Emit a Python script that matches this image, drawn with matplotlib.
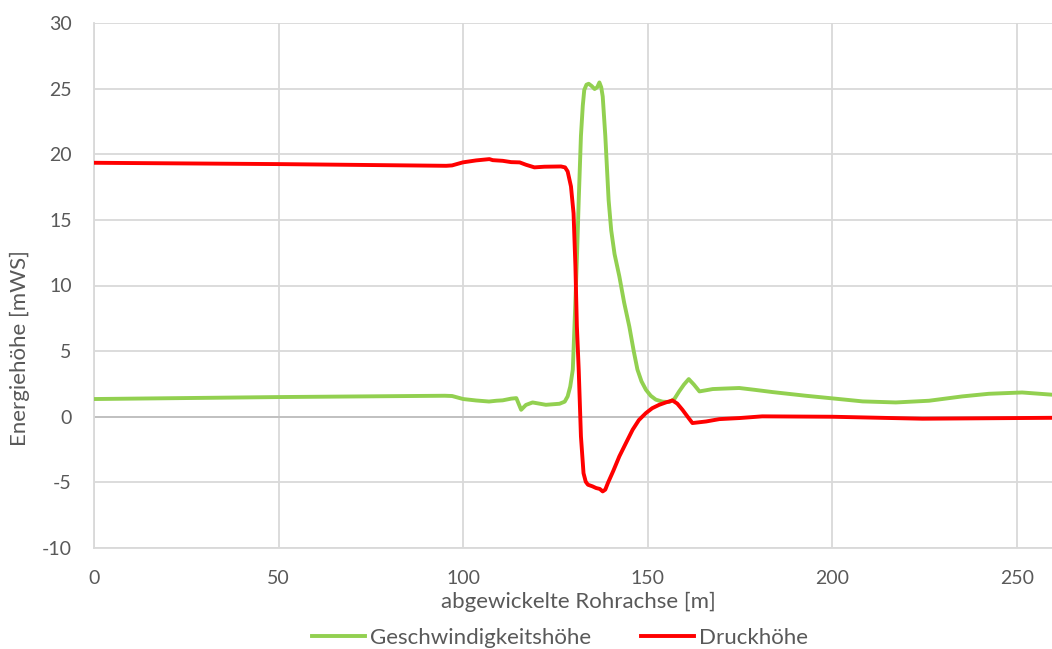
import matplotlib
matplotlib.use("Agg")
import matplotlib.pyplot as plt

# ======== Data ========
x_v = [0, 50, 95, 97, 100, 103.5, 107, 109, 110.7, 113, 114.4, 115.7, 117, 118.8,
       122.4, 126.1, 127.5, 128.3, 129.0, 129.7, 130.3, 130.8, 131.3, 131.9, 132.4,
       132.8, 133.4, 134.0, 134.8, 135.6, 136.3, 136.9, 137.4, 137.8, 138.5, 139.4,
       140.1, 141.0, 142.3, 143.6, 145.0, 146.2, 147.2, 148.3, 149.5, 150.8, 152.2,
       154.0, 155.8, 157.2, 158.5, 159.8, 161.1, 162.5, 164.0, 165.8, 167.6, 171.0,
       174.8, 179.0, 183.8, 192.8, 200, 208.2, 217.2, 226.2, 235.2, 242.4, 251.4,
       259.5]
geschw = [1.35, 1.5, 1.6, 1.58, 1.35, 1.24, 1.16, 1.22, 1.25, 1.38, 1.42, 0.53, 0.9, 1.09,
          0.91, 0.99, 1.15, 1.55, 2.3, 3.6, 8.0, 12.0, 16.5, 21.4, 23.7,
          24.9, 25.3, 25.37, 25.2, 24.97, 25.1, 25.47, 25.1, 24.4, 21.4, 16.5,
          14.2, 12.4, 10.7, 8.7, 6.88, 5.0, 3.6, 2.7, 2.06, 1.6, 1.3,
          1.15, 1.12, 1.35, 1.93, 2.45, 2.87, 2.45, 1.93, 2.02, 2.11, 2.15,
          2.19, 2.05, 1.88, 1.6, 1.4, 1.17, 1.09, 1.22, 1.55, 1.75, 1.85,
          1.68]

x_p = [0, 50, 95.4, 97, 99.9, 103.5, 107.1, 108, 110.7, 113, 115.3, 117, 119.3, 122,
       126.5, 127.6, 128.3, 129.2, 129.9, 130.4, 130.8, 131.3, 131.9, 132.6, 133.2,
       133.8, 135.0, 136.0, 137.0, 137.8, 138.5, 139.2, 140.7, 142.3, 144.1, 145.9,
       147.6, 149.5, 151.2, 153.1, 155.0, 156.7, 158.0, 159.4, 160.8, 162.1, 165.8,
       169.4, 174.8, 181, 200, 224.4, 259.5]
druck = [19.35, 19.25, 19.12, 19.15, 19.38, 19.53, 19.63, 19.55, 19.5, 19.4, 19.38, 19.2, 19.0, 19.05,
         19.07, 19.0, 18.69, 17.55, 15.5, 11.5, 6.9, 3.58, -1.5, -4.3, -4.95,
         -5.18, -5.3, -5.43, -5.5, -5.69, -5.55, -5.05, -4.1, -3.02, -2.0, -0.99,
         -0.25, 0.28, 0.65, 0.91, 1.1, 1.24, 1.0, 0.53, 0.0, -0.48, -0.36,
         -0.18, -0.1, 0.03, 0.0, -0.15, -0.08]

# ======== Style ========
plt.rcParams["font.family"] = ["Lato", "DejaVu Sans"]
plt.rcParams["axes.unicode_minus"] = False
TXT = "#595959"
GRID = "#D9D9D9"

fig = plt.figure(figsize=(10.52, 6.49), dpi=100)
ax = fig.add_axes([94 / 1052, 1 - 548 / 649, 1 - 94 / 1052, (548 - 23) / 649])

ax.plot(x_v, geschw, color="#92D050", linewidth=2.8, solid_joinstyle="round",
        label="Geschwindigkeitshöhe", zorder=3)
ax.plot(x_p, druck, color="#FF0000", linewidth=2.8, solid_joinstyle="round",
        label="Druckhöhe", zorder=4)

ax.set_xlim(0, 259.5)
ax.set_ylim(-10, 30)
ax.set_xticks(range(0, 251, 50))
ax.set_yticks(range(-10, 31, 5))
ax.grid(True, color=GRID, linewidth=1.3)
ax.axhline(0, color="#BFBFBF", linewidth=1.3, zorder=2)
ax.set_axisbelow(True)

for s in ["top", "right"]:
    ax.spines[s].set_visible(False)
ax.spines["left"].set_color(GRID)
ax.spines["left"].set_linewidth(1.3)
ax.spines["bottom"].set_color(GRID)
ax.spines["bottom"].set_linewidth(1.3)
ax.tick_params(length=0, labelsize=14, colors=TXT)
ax.tick_params(axis="x", pad=16)
ax.tick_params(axis="y", pad=16)

ax.set_xlabel("abgewickelte Rohrachse [m]", fontsize=16, color=TXT)
ax.xaxis.set_label_coords(0.506, -0.083)
ax.set_ylabel("Energiehöhe [mWS]", fontsize=16, color=TXT, va="center")
ax.yaxis.set_label_coords(-0.077, 0.381)

fig.legend(loc="center", bbox_to_anchor=(560 / 1052, 1 - 638 / 649), ncol=2,
           frameon=False, fontsize=16, labelcolor=TXT, handlelength=2.4,
           handletextpad=0.22, columnspacing=2.25, borderpad=0)

fig.savefig("out.png", dpi=100)
